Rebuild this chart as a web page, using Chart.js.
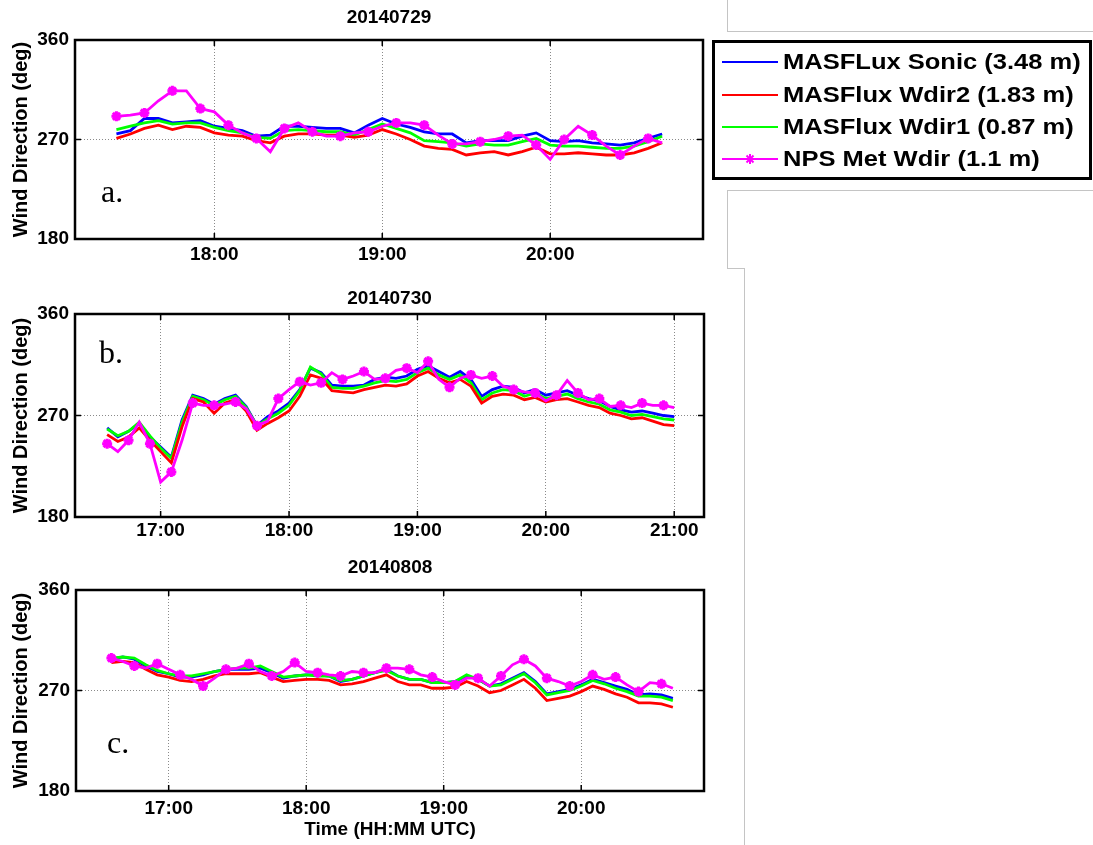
<!DOCTYPE html>
<html>
<head>
<meta charset="utf-8">
<script src="https://cdn.jsdelivr.net/npm/chart.js@4.4.1/dist/chart.umd.min.js"></script>
<style>
  body { margin: 0; background: #fff; }
  #page { position: relative; width: 1093px; height: 845px; overflow: hidden;
          font-family: "Liberation Sans", Arial, sans-serif; }
  canvas { position: absolute; left: 0; }
  .rule { position: absolute; border: 0 solid #c4c4c4; box-sizing: border-box; }
  #legend { position: absolute; left: 712px; top: 40px; width: 380px; height: 140px;
            border: 3px solid #000; box-sizing: border-box; }
  .item { position: absolute; left: 7px; height: 32px; display: flex; align-items: center; }
  .item span { margin-left: 5px; font-weight: bold; font-size: 22px; white-space: nowrap;
               display: inline-block; transform: scaleX(1.16); transform-origin: left center; }
</style>
</head>
<body>
<div id="page">
  <canvas id="chartA" width="720" height="270" style="top:0px"></canvas>
  <canvas id="chartB" width="720" height="275" style="top:270px"></canvas>
  <canvas id="chartC" width="720" height="300" style="top:545px"></canvas>

  <div class="rule" style="left:727px; top:0; width:366px; height:32px; border-left-width:1px; border-bottom-width:1px;"></div>
  <div class="rule" style="left:727px; top:190px; width:366px; height:79px; border-left-width:1px; border-top-width:1px;"></div>
  <div class="rule" style="left:727px; top:268px; width:18px; height:577px; border-top-width:1px; border-right-width:1px;"></div>

  <div id="legend">
    <div class="item" style="top:3px"><svg width="56" height="14"><line x1="0" y1="7" x2="56" y2="7" stroke="#0000ff" stroke-width="2"/></svg><span>MASFLux Sonic (3.48 m)</span></div>
    <div class="item" style="top:36px"><svg width="56" height="14"><line x1="0" y1="7" x2="56" y2="7" stroke="#ff0000" stroke-width="2"/></svg><span>MASFlux Wdir2 (1.83 m)</span></div>
    <div class="item" style="top:68px"><svg width="56" height="14"><line x1="0" y1="7" x2="56" y2="7" stroke="#00ff00" stroke-width="2"/></svg><span>MASFlux Wdir1 (0.87 m)</span></div>
    <div class="item" style="top:100px"><svg width="56" height="14"><line x1="0" y1="7" x2="56" y2="7" stroke="#ff00ff" stroke-width="2"/><path d="M28 2v10M23 7h10M24.5 3.5l7 7M31.5 3.5l-7 7" stroke="#ff00ff" stroke-width="2"/></svg><span>NPS Met Wdir (1.1 m)</span></div>
  </div>
</div>

<script>
// ---- 20140729 ----
const aTimes = ['17:25','17:30','17:35','17:40','17:45','17:50','17:55',
  '18:00','18:05','18:10','18:15','18:20','18:25','18:30','18:35','18:40','18:45','18:50','18:55',
  '19:00','19:05','19:10','19:15','19:20','19:25','19:30','19:35','19:40','19:45','19:50','19:55',
  '20:00','20:05','20:10','20:15','20:20','20:25','20:30','20:35','20:40'];
const aSonic = [275, 278, 289, 289, 285, 286, 287,
  282, 280, 278, 273, 274, 282, 282, 281, 280, 280, 276, 283,
  289, 284, 281, 277, 275, 275, 267, 269, 269, 269, 273, 276,
  269, 268, 269, 267, 266, 265, 267, 271, 275];
const aWdir2 = [271, 275, 280, 283, 279, 282, 281,
  276, 274, 273, 269, 267, 273, 275, 275, 274, 274, 272, 274,
  279, 275, 270, 264, 262, 261, 256, 258, 259, 256, 259, 263,
  257, 257, 258, 257, 256, 256, 258, 262, 267];
const aWdir1 = [279, 282, 285, 287, 284, 285, 285,
  281, 278, 276, 272, 271, 278, 279, 278, 277, 277, 274, 279,
  284, 280, 276, 269, 268, 267, 264, 266, 265, 265, 268, 271,
  265, 264, 264, 263, 262, 262, 264, 268, 273];
const aNps = [291, 292, 294, 305, 314, 314, 298,
  295, 283, 276, 271, 259, 280, 285, 277, 273, 273, 276, 277,
  282, 285, 285, 283, 274, 266, 266, 268, 270, 273, 274, 265,
  252, 270, 282, 274, 264, 256, 264, 271, 267];
const aTicks = ['18:00', '19:00', '20:00'];

// ---- 20140730 ----
const bTimes = ['16:35','16:40','16:45','16:50','16:55',
  '17:00','17:05','17:10','17:15','17:20','17:25','17:30','17:35','17:40','17:45','17:50','17:55',
  '18:00','18:05','18:10','18:15','18:20','18:25','18:30','18:35','18:40','18:45','18:50','18:55',
  '19:00','19:05','19:10','19:15','19:20','19:25','19:30','19:35','19:40','19:45','19:50','19:55',
  '20:00','20:05','20:10','20:15','20:20','20:25','20:30','20:35','20:40','20:45','20:50','20:55',
  '21:00'];
const bSonic = [259, 251, 256, 263, 251,
  242, 233, 266, 288, 285, 280, 285, 288, 278, 261, 269, 274,
  281, 293, 312, 308, 297, 296, 296, 297, 302, 304, 303, 305,
  311, 314, 309, 304, 309, 302, 287, 293, 296, 295, 290, 293,
  288, 290, 292, 288, 285, 283, 278, 275, 273, 274, 272, 270,
  269];
const bWdir2 = [253, 247, 251, 259, 248,
  238, 228, 260, 285, 282, 272, 281, 284, 274, 257, 263, 268,
  274, 287, 306, 303, 292, 291, 290, 293, 295, 297, 296, 298,
  305, 309, 303, 299, 302, 296, 281, 287, 289, 288, 284, 286,
  282, 284, 285, 282, 279, 277, 272, 270, 267, 268, 265, 262,
  261];
const bWdir1 = [258, 252, 256, 264, 252,
  241, 232, 264, 287, 284, 279, 284, 287, 277, 261, 267, 272,
  279, 292, 313, 307, 295, 294, 294, 296, 299, 301, 300, 302,
  308, 312, 306, 302, 306, 299, 284, 290, 293, 292, 287, 290,
  285, 287, 289, 285, 282, 280, 275, 273, 270, 271, 269, 267,
  266];
const bNps = [245, 238, 248, 264, 245,
  211, 220, 248, 281, 279, 279, 280, 282, 276, 261, 265, 285,
  293, 300, 297, 299, 308, 302, 305, 309, 302, 303, 310, 312,
  308, 318, 302, 295, 303, 306, 303, 305, 296, 293, 291, 290,
  283, 288, 301, 290, 284, 285, 278, 279, 277, 281, 279, 279,
  277];
const bTicks = ['17:00', '18:00', '19:00', '20:00', '21:00'];

// ---- 20140808 ----
const cTimes = ['16:35','16:40','16:45','16:50','16:55',
  '17:00','17:05','17:10','17:15','17:20','17:25','17:30','17:35','17:40','17:45','17:50','17:55',
  '18:00','18:05','18:10','18:15','18:20','18:25','18:30','18:35','18:40','18:45','18:50','18:55',
  '19:00','19:05','19:10','19:15','19:20','19:25','19:30','19:35','19:40','19:45','19:50','19:55',
  '20:00','20:05','20:10','20:15','20:20','20:25','20:30','20:35','20:40'];
const cSonic = [298, 300, 298, 292, 287,
  285, 282, 282, 284, 287, 289, 289, 289, 290, 286, 281, 283,
  284, 284, 283, 278, 280, 283, 286, 289, 283, 280, 280, 277,
  277, 278, 283, 280, 274, 276, 281, 286, 278, 267, 269, 271,
  275, 280, 277, 274, 271, 266, 267, 266, 263];
const cWdir2 = [295, 296, 295, 289, 284,
  282, 279, 278, 280, 283, 285, 285, 285, 286, 282, 278, 279,
  280, 280, 279, 275, 276, 278, 281, 284, 278, 275, 275, 272,
  272, 273, 278, 274, 268, 270, 275, 280, 272, 261, 263, 265,
  269, 274, 271, 267, 264, 259, 259, 258, 255];
const cWdir1 = [299, 300, 299, 293, 288,
  285, 283, 283, 285, 287, 289, 290, 290, 292, 287, 282, 283,
  284, 283, 283, 279, 280, 283, 286, 288, 283, 280, 280, 277,
  277, 278, 284, 280, 274, 275, 280, 285, 277, 266, 268, 270,
  274, 279, 276, 272, 269, 265, 265, 264, 261];
const cNps = [299, 296, 292, 290, 294,
  289, 284, 280, 274, 281, 289, 290, 294, 287, 283, 287, 295,
  287, 286, 284, 283, 287, 286, 286, 290, 290, 289, 284, 282,
  278, 275, 281, 281, 274, 283, 293, 298, 292, 281, 278, 274,
  278, 284, 280, 282, 275, 269, 277, 276, 272];
const cTicks = ['17:00', '18:00', '19:00', '20:00'];

const FONT = '"Liberation Sans", Arial, sans-serif';
const toHours = s => { const [h, m] = s.split(':'); return +h + m / 60; };
const pts = (times, vals) => times.map((t, i) => ({ x: toHours(t), y: vals[i] }));

// box, inward ticks and panel letter, MATLAB style
const framePlugin = {
  id: 'frame',
  afterDraw(chart, args, opts) {
    const { ctx, chartArea: a, scales: { x, y } } = chart;
    ctx.save();
    ctx.strokeStyle = '#000';
    ctx.lineWidth = 1.5;
    ctx.beginPath();
    x.ticks.forEach(t => {
      const px = x.getPixelForValue(t.value);
      ctx.moveTo(px, a.bottom); ctx.lineTo(px, a.bottom - 6);
      ctx.moveTo(px, a.top); ctx.lineTo(px, a.top + 6);
    });
    y.ticks.forEach(t => {
      const py = y.getPixelForValue(t.value);
      ctx.moveTo(a.left, py); ctx.lineTo(a.left + 6, py);
      ctx.moveTo(a.right, py); ctx.lineTo(a.right - 6, py);
    });
    ctx.stroke();
    ctx.lineWidth = 2.5;
    ctx.strokeRect(a.left, a.top, a.right - a.left, a.bottom - a.top);
    ctx.fillStyle = '#000';
    ctx.font = '32px "Liberation Serif", "Times New Roman", serif';
    ctx.fillText(opts.letter, a.left + opts.dx, a.top + opts.dy);
    ctx.restore();
  }
};

const panels = [
  { id: 'chartA', title: '20140729', letter: 'a.', dx: 26, dy: 162,
    times: aTimes, sonic: aSonic, wdir2: aWdir2, wdir1: aWdir1, nps: aNps, ticks: aTicks,
    min: 17.17, max: 20.91, yWidth: 75, xHeight: 31, right: 17, tPad: { top: 6.4, bottom: 10.8 },
    tickPad: 4, xTitle: null },
  { id: 'chartB', title: '20140730', letter: 'b.', dx: 24, dy: 49,
    times: bTimes, sonic: bSonic, wdir2: bWdir2, wdir1: bWdir1, nps: bNps, ticks: bTicks,
    min: 16.333, max: 21.232, yWidth: 75, xHeight: 28, right: 16, tPad: { top: 16.9, bottom: 4.3 },
    tickPad: 2, xTitle: null },
  { id: 'chartC', title: '20140808', letter: 'c.', dx: 31, dy: 163,
    times: cTimes, sonic: cSonic, wdir2: cWdir2, wdir1: cWdir1, nps: cNps, ticks: cTicks,
    min: 16.326, max: 20.893, yWidth: 76, xHeight: 54, right: 16, tPad: { top: 11.6, bottom: 10.6 },
    tickPad: 6, xTitle: 'Time (HH:MM UTC)' }
];

panels.forEach(p => {
  const line = (label, vals, color) => ({
    label, data: pts(p.times, vals), borderColor: color, backgroundColor: color,
    borderWidth: 2.8, pointRadius: 0, tension: 0
  });
  const nps = line('NPS Met Wdir (1.1 m)', p.nps, '#ff00ff');
  nps.pointStyle = 'star';
  nps.pointRadius = ctx => ctx.dataIndex % 2 === 0 ? 5 : 0;
  nps.pointBorderWidth = 3;
  nps.pointBorderColor = '#ff00ff';

  new Chart(document.getElementById(p.id), {
    type: 'line',
    data: {
      datasets: [
        nps,
        line('MASFlux Wdir2 (1.83 m)', p.wdir2, '#ff0000'),
        line('MASFlux Wdir1 (0.87 m)', p.wdir1, '#00ff00'),
        line('MASFLux Sonic (3.48 m)', p.sonic, '#0000ff')
      ]
    },
    options: {
      responsive: false,
      animation: false,
      layout: { padding: { left: 0, right: p.right, top: 0, bottom: 0 } },
      plugins: {
        legend: { display: false },
        tooltip: { enabled: false },
        title: {
          display: true, text: p.title, color: '#000', fullSize: false,
          font: { family: FONT, size: 19, weight: 'bold' }, padding: p.tPad
        },
        frame: { letter: p.letter, dx: p.dx, dy: p.dy }
      },
      scales: {
        x: {
          type: 'linear', min: p.min, max: p.max,
          afterBuildTicks: axis => { axis.ticks = p.ticks.map(t => ({ value: toHours(t) })); },
          afterFit: axis => { axis.height = p.xHeight; },
          ticks: {
            color: '#000', padding: p.tickPad, maxRotation: 0,
            font: { family: FONT, size: 19, weight: 'bold' },
            callback: v => String(Math.round(v)).padStart(2, '0') + ':00'
          },
          grid: { color: '#8a8a8a', lineWidth: 1, drawTicks: false },
          border: { display: false, dash: [1, 2] },
          title: {
            display: !!p.xTitle, text: p.xTitle || '', color: '#000',
            font: { family: FONT, size: 19, weight: 'bold' }, padding: { top: 0, bottom: 3.6 }
          }
        },
        y: {
          min: 180, max: 360,
          afterFit: axis => { axis.width = p.yWidth; },
          ticks: {
            stepSize: 90, color: '#000', padding: 6,
            font: { family: FONT, size: 19, weight: 'bold' }
          },
          grid: {
            drawTicks: false, lineWidth: 1,
            color: ctx => ctx.tick && ctx.tick.value === 270 ? '#8a8a8a' : 'rgba(0,0,0,0)'
          },
          border: { display: false, dash: [1, 2] },
          title: {
            display: true, text: 'Wind Direction (deg)', color: '#000',
            font: { family: FONT, size: 20, weight: 'bold' }, padding: { top: 9, bottom: 0 }
          }
        }
      }
    },
    plugins: [framePlugin]
  });
});
</script>
</body>
</html>
